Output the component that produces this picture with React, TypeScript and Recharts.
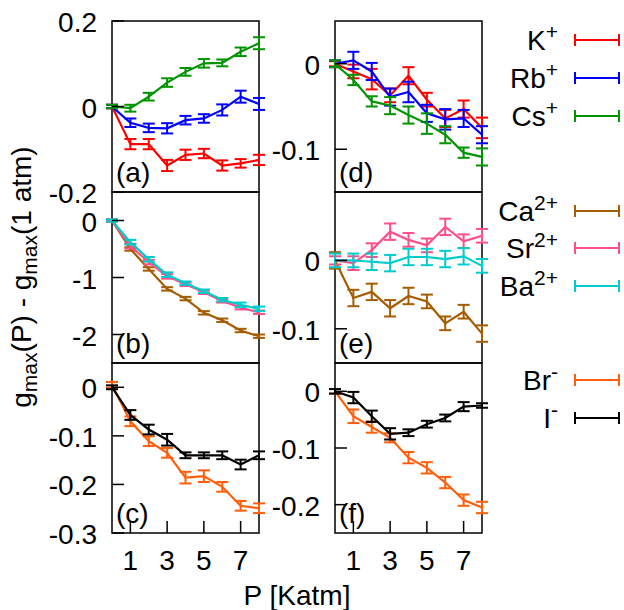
import React from 'react';
import { LineChart, Line, XAxis, YAxis, ErrorBar, ReferenceArea } from 'recharts';

// ---------- data ----------
const pressure = [0, 1, 2, 3, 4, 5, 6, 7, 8];
const xTicks = [1, 3, 5, 7];

// (a) monovalent cations, 1st peak
const kA = [0, -0.088, -0.088, -0.138, -0.113, -0.11, -0.138, -0.133, -0.125];
const kAErr = [0.004, 0.012, 0.012, 0.013, 0.012, 0.011, 0.012, 0.01, 0.012];
const rbA = [0, -0.038, -0.05, -0.051, -0.032, -0.028, -0.008, 0.023, 0.006];
const rbAErr = [0.004, 0.01, 0.01, 0.012, 0.01, 0.01, 0.013, 0.014, 0.014];
const csA = [0, -0.004, 0.023, 0.056, 0.081, 0.101, 0.102, 0.128, 0.148];
const csAErr = [0.004, 0.008, 0.009, 0.01, 0.009, 0.01, 0.008, 0.01, 0.014];

// (b) divalent cations, 1st peak
const caB = [0, -0.5, -0.85, -1.2, -1.37, -1.62, -1.75, -1.93, -2.03];
const caBErr = [0.02, 0.03, 0.03, 0.03, 0.03, 0.03, 0.03, 0.03, 0.03];
const srB = [0, -0.45, -0.73, -0.98, -1.12, -1.26, -1.41, -1.53, -1.61];
const srBErr = [0.02, 0.04, 0.04, 0.04, 0.03, 0.03, 0.03, 0.03, 0.03];
const baB = [0, -0.38, -0.68, -0.95, -1.1, -1.24, -1.39, -1.48, -1.55];
const baBErr = [0.02, 0.04, 0.04, 0.04, 0.03, 0.03, 0.03, 0.04, 0.04];

// (c) anions, 1st peak
const brC = [0.005, -0.07, -0.111, -0.135, -0.186, -0.183, -0.205, -0.244, -0.249];
const brCErr = [0.006, 0.01, 0.01, 0.01, 0.012, 0.012, 0.01, 0.01, 0.01];
const iC = [0, -0.057, -0.087, -0.108, -0.14, -0.14, -0.14, -0.159, -0.14];
const iCErr = [0.004, 0.01, 0.01, 0.012, 0.006, 0.006, 0.008, 0.01, 0.008];

// (d) monovalent cations, 2nd
const kD = [0, -0.009, -0.018, -0.037, -0.014, -0.042, -0.064, -0.053, -0.075];
const kDErr = [0.003, 0.008, 0.012, 0.008, 0.01, 0.008, 0.01, 0.01, 0.012];
const rbD = [0, 0.004, -0.009, -0.039, -0.033, -0.058, -0.065, -0.064, -0.083];
const rbDErr = [0.004, 0.01, 0.01, 0.01, 0.012, 0.01, 0.012, 0.01, 0.01];
const csD = [0, -0.019, -0.044, -0.049, -0.06, -0.07, -0.083, -0.104, -0.109];
const csDErr = [0.004, 0.006, 0.006, 0.01, 0.01, 0.012, 0.01, 0.006, 0.01];

// (e) divalent cations, 2nd
const caE = [0, -0.055, -0.046, -0.07, -0.052, -0.06, -0.092, -0.075, -0.107];
const caEErr = [0.012, 0.012, 0.012, 0.012, 0.012, 0.01, 0.01, 0.01, 0.012];
const srE = [0, -0.004, 0.015, 0.042, 0.03, 0.022, 0.049, 0.028, 0.036];
const srEErr = [0.006, 0.01, 0.01, 0.012, 0.01, 0.01, 0.012, 0.01, 0.01];
const baE = [0, 0, -0.002, -0.004, 0.005, 0.005, 0.002, 0.006, -0.008];
const baEErr = [0.01, 0.01, 0.012, 0.012, 0.012, 0.012, 0.012, 0.012, 0.01];

// (f) anions, 2nd
const brF = [0, -0.044, -0.063, -0.082, -0.117, -0.135, -0.161, -0.192, -0.205];
const brFErr = [0.004, 0.012, 0.01, 0.008, 0.01, 0.01, 0.01, 0.01, 0.01];
const iF = [0, -0.011, -0.044, -0.075, -0.073, -0.058, -0.047, -0.027, -0.025];
const iFErr = [0.004, 0.01, 0.01, 0.01, 0.006, 0.006, 0.006, 0.008, 0.004];

const COLORS = {
  K: '#ff0000',
  Rb: '#0000ff',
  Cs: '#009400',
  Ca: '#a65c00',
  Sr: '#ff4f88',
  Ba: '#00cccc',
  Br: '#ff5e0a',
  I: '#000000',
};

const FONT = '"Liberation Sans", Arial, sans-serif';
const FS = 28;

type S = { key: string; color: string; values: number[]; errs: number[] };

function buildRows(series: S[]) {
  return pressure.map((p, i) => {
    const row: any = { p };
    series.forEach((s) => {
      row[s.key] = s.values[i];
      row[s.key + '_err'] = s.errs[i];
    });
    return row;
  });
}

const fmt = (v: number) => (Math.abs(v) < 1e-9 ? '0' : String(v));

const YTick = (props: any) => {
  const { x, y, payload } = props;
  return (
    <g>
      <line x1={x} y1={y} x2={x + 12} y2={y} stroke="#000" strokeWidth={1.5} />
      <text x={x - 15} y={y + 11} textAnchor="end" fontSize={FS} fontFamily={FONT} fill="#000">
        {fmt(payload.value)}
      </text>
    </g>
  );
};

const XTick = (props: any) => {
  const { x, y, payload } = props;
  return (
    <g>
      <line x1={x} y1={y} x2={x} y2={y - 12} stroke="#000" strokeWidth={1.5} />
      <text x={x} y={y + 37} textAnchor="middle" fontSize={FS} fontFamily={FONT} fill="#000">
        {payload.value}
      </text>
    </g>
  );
};

const W = 624;
const H = 610;
const PW = 147;

function Panel(props: {
  left: number;
  top: number;
  bottom: number;
  series: S[];
  domain: [number, number];
  yTicks: number[];
  showX: boolean;
}) {
  const { left, top, bottom, series, domain, yTicks, showX } = props;
  const rows = buildRows(series);
  // axes are 1px wide/high, so shift the margins by 1 to keep the plot box exact
  const margin = { left: left - 1, top, right: W - left - PW, bottom: H - bottom - 1 };
  return (
    <div style={{ position: 'absolute', left: 0, top: 0 }}>
      <LineChart width={W} height={H} data={rows} margin={margin}>
        <XAxis
          dataKey="p"
          type="number"
          domain={[0, 8]}
          ticks={xTicks}
          height={1}
          axisLine={false}
          tickLine={false}
          tickSize={0}
          tickMargin={0}
          interval={0}
          allowDataOverflow
          tick={showX ? <XTick /> : false}
        />
        <YAxis
          type="number"
          domain={domain}
          ticks={yTicks}
          width={1}
          axisLine={false}
          tickLine={false}
          tickSize={0}
          tickMargin={0}
          interval={0}
          allowDataOverflow
          tick={<YTick />}
        />
        <ReferenceArea
          x1={0}
          x2={8}
          y1={domain[0]}
          y2={domain[1]}
          fill="none"
          fillOpacity={0}
          stroke="#000"
          strokeWidth={1.5}
          ifOverflow="visible"
        />
        {series.map((s) => (
          <Line
            key={s.key}
            dataKey={s.key}
            stroke={s.color}
            strokeWidth={2.2}
            dot={false}
            activeDot={false}
            isAnimationActive={false}
          >
            <ErrorBar
              dataKey={s.key + '_err'}
              direction="y"
              width={6}
              stroke={s.color}
              strokeWidth={2}
              isAnimationActive={false}
            />
          </Line>
        ))}
      </LineChart>
    </div>
  );
}

const LEFT_X = 112;
const RIGHT_X = 335;
const ROWS: [number, number][] = [
  [21, 192],
  [192, 363],
  [363, 533],
];

const legendItems = [
  { base: 'K', sup: '+', color: COLORS.K, y: 40 },
  { base: 'Rb', sup: '+', color: COLORS.Rb, y: 78 },
  { base: 'Cs', sup: '+', color: COLORS.Cs, y: 116 },
  { base: 'Ca', sup: '2+', color: COLORS.Ca, y: 211 },
  { base: 'Sr', sup: '2+', color: COLORS.Sr, y: 248 },
  { base: 'Ba', sup: '2+', color: COLORS.Ba, y: 286 },
  { base: 'Br', sup: '-', color: COLORS.Br, y: 380 },
  { base: 'I', sup: '-', color: COLORS.I, y: 418 },
];

const panelLabels = ['(a)', '(b)', '(c)', '(d)', '(e)', '(f)'];

export default function App() {
  const panels = [
    {
      left: LEFT_X, row: 0, domain: [-0.2, 0.2] as [number, number], yTicks: [0.2, 0, -0.2], showX: false,
      series: [
        { key: 'K', color: COLORS.K, values: kA, errs: kAErr },
        { key: 'Rb', color: COLORS.Rb, values: rbA, errs: rbAErr },
        { key: 'Cs', color: COLORS.Cs, values: csA, errs: csAErr },
      ],
    },
    {
      left: LEFT_X, row: 1, domain: [-2.5, 0.5] as [number, number], yTicks: [0, -1, -2], showX: false,
      series: [
        { key: 'Ca', color: COLORS.Ca, values: caB, errs: caBErr },
        { key: 'Sr', color: COLORS.Sr, values: srB, errs: srBErr },
        { key: 'Ba', color: COLORS.Ba, values: baB, errs: baBErr },
      ],
    },
    {
      left: LEFT_X, row: 2, domain: [-0.3, 0.05] as [number, number], yTicks: [0, -0.1, -0.2, -0.3], showX: true,
      series: [
        { key: 'Br', color: COLORS.Br, values: brC, errs: brCErr },
        { key: 'I', color: COLORS.I, values: iC, errs: iCErr },
      ],
    },
    {
      left: RIGHT_X, row: 0, domain: [-0.15, 0.05] as [number, number], yTicks: [0, -0.1], showX: false,
      series: [
        { key: 'K', color: COLORS.K, values: kD, errs: kDErr },
        { key: 'Rb', color: COLORS.Rb, values: rbD, errs: rbDErr },
        { key: 'Cs', color: COLORS.Cs, values: csD, errs: csDErr },
      ],
    },
    {
      left: RIGHT_X, row: 1, domain: [-0.15, 0.1] as [number, number], yTicks: [0, -0.1], showX: false,
      series: [
        { key: 'Ca', color: COLORS.Ca, values: caE, errs: caEErr },
        { key: 'Sr', color: COLORS.Sr, values: srE, errs: srEErr },
        { key: 'Ba', color: COLORS.Ba, values: baE, errs: baEErr },
      ],
    },
    {
      left: RIGHT_X, row: 2, domain: [-0.25, 0.05] as [number, number], yTicks: [0, -0.1, -0.2], showX: true,
      series: [
        { key: 'Br', color: COLORS.Br, values: brF, errs: brFErr },
        { key: 'I', color: COLORS.I, values: iF, errs: iFErr },
      ],
    },
  ];

  return (
    <div style={{ position: 'absolute', left: 0, top: 0, width: W, height: H, background: '#fff' }}>
      {panels.map((p, i) => (
        <Panel
          key={i}
          left={p.left}
          top={ROWS[p.row][0]}
          bottom={ROWS[p.row][1]}
          series={p.series}
          domain={p.domain}
          yTicks={p.yTicks}
          showX={p.showX}
        />
      ))}
      <svg width={W} height={H} style={{ position: 'absolute', left: 0, top: 0, pointerEvents: 'none' }}>
        {panels.map((p, i) => (
          <text
            key={i}
            x={p.left + 4}
            y={ROWS[p.row][1] - 10}
            fontSize={FS}
            fontFamily={FONT}
            fill="#000"
          >
            {panelLabels[i]}
          </text>
        ))}
        <text x={297} y={605} textAnchor="middle" fontSize={FS} fontFamily={FONT} fill="#000">
          P [Katm]
        </text>
        <text
          transform="translate(31,277) rotate(-90)"
          textAnchor="middle"
          fontSize={FS}
          fontFamily={FONT}
          fill="#000"
        >
          g<tspan fontSize={21} dy={6}>max</tspan>
          <tspan dy={-6}>(P) - g</tspan>
          <tspan fontSize={21} dy={6}>max</tspan>
          <tspan dy={-6}>(1 atm)</tspan>
        </text>
        {legendItems.map((it) => (
          <g key={it.base}>
            <text x={558} y={it.y + 10} textAnchor="end" fontSize={FS} fontFamily={FONT} fill="#000">
              {it.base}
              <tspan fontSize={21} dy={-11}>{it.sup}</tspan>
            </text>
            <line x1={575} y1={it.y} x2={619} y2={it.y} stroke={it.color} strokeWidth={2} />
            <line x1={575} y1={it.y - 6} x2={575} y2={it.y + 6} stroke={it.color} strokeWidth={2} />
            <line x1={619} y1={it.y - 6} x2={619} y2={it.y + 6} stroke={it.color} strokeWidth={2} />
          </g>
        ))}
      </svg>
    </div>
  );
}
